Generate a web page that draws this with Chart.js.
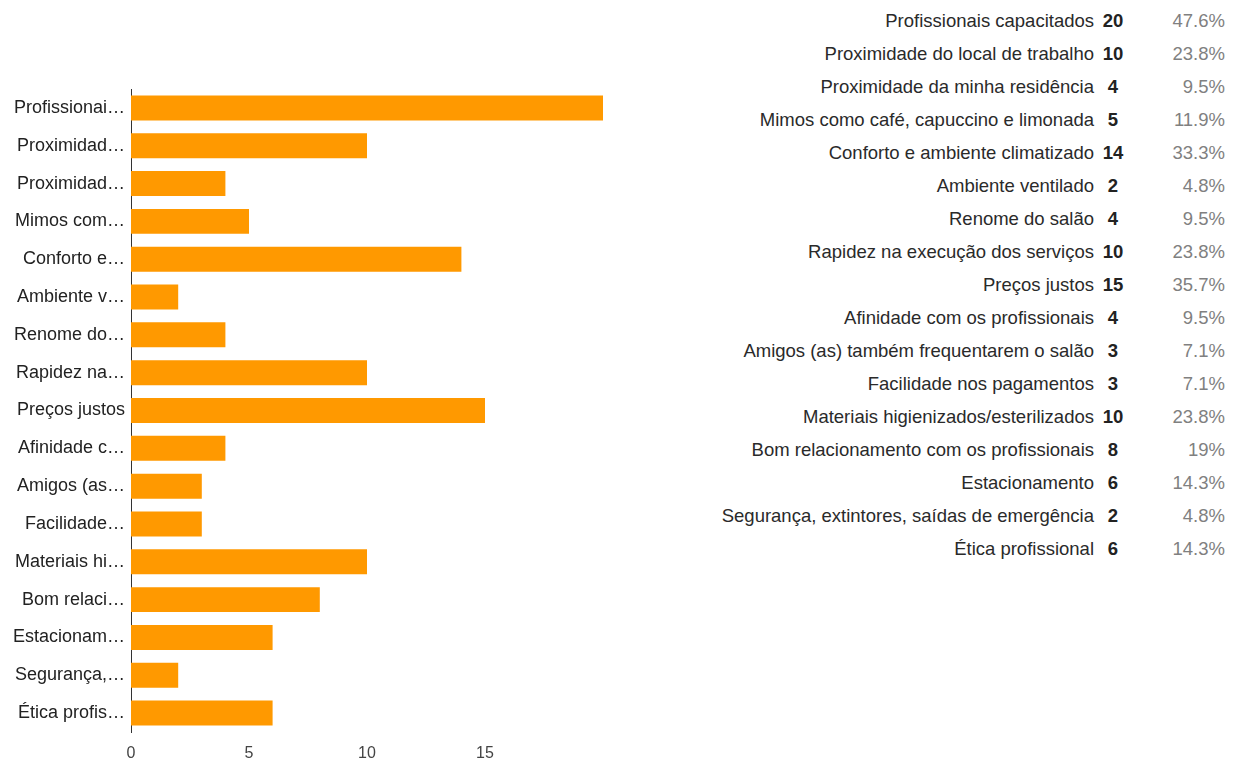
<!DOCTYPE html>
<html>
<head>
<meta charset="utf-8">
<script src="https://cdn.jsdelivr.net/npm/chart.js@4/dist/chart.umd.min.js"></script>
<style>
  html, body { margin: 0; padding: 0; background: #fff; }
  body { width: 1240px; height: 762px; position: relative; overflow: hidden; font-family: "Liberation Sans", Arial, sans-serif; }
  #chart-wrap { position: absolute; left: 0; top: 0; width: 640px; height: 762px; }
  #resumo { position: absolute; left: 660px; top: 4px; border-collapse: collapse; font-size: 18.5px; }
  #resumo td { height: 33px; padding: 0; white-space: nowrap; }
  #resumo td.lbl { text-align: right; color: #2a2a2a; width: 434px; }
  #resumo td.cnt { text-align: center; color: #222; font-weight: bold; width: 38px; }
  #resumo td.pct { text-align: right; color: #808080; width: 93px; }
</style>
</head>
<body>
<div id="chart-wrap"><canvas id="barChart"></canvas></div>
<table id="resumo"><tbody></tbody></table>
<script>
// respostas por motivo
const motivos = [
  "Profissionais capacitados",
  "Proximidade do local de trabalho",
  "Proximidade da minha residência",
  "Mimos como café, capuccino e limonada",
  "Conforto e ambiente climatizado",
  "Ambiente ventilado",
  "Renome do salão",
  "Rapidez na execução dos serviços",
  "Preços justos",
  "Afinidade com os profissionais",
  "Amigos (as) também frequentarem o salão",
  "Facilidade nos pagamentos",
  "Materiais higienizados/esterilizados",
  "Bom relacionamento com os profissionais",
  "Estacionamento",
  "Segurança, extintores, saídas de emergência",
  "Ética profissional"
];
// rótulos curtos do eixo
const rotulosEixo = [
  "Profissionai…", "Proximidad…", "Proximidad…", "Mimos com…", "Conforto e…",
  "Ambiente v…", "Renome do…", "Rapidez na…", "Preços justos", "Afinidade c…",
  "Amigos (as…", "Facilidade…", "Materiais hi…", "Bom relaci…", "Estacionam…",
  "Segurança,…", "Ética profis…"
];
const contagens = [20, 10, 4, 5, 14, 2, 4, 10, 15, 4, 3, 3, 10, 8, 6, 2, 6];
const percentuais = ["47.6%", "23.8%", "9.5%", "11.9%", "33.3%", "4.8%", "9.5%", "23.8%", "35.7%",
  "9.5%", "7.1%", "7.1%", "23.8%", "19%", "14.3%", "4.8%", "14.3%"];
const ticksX = [0, 5, 10, 15];

const el = id => document.getElementById(id);

// tabela de resumo à direita
el("resumo").querySelector("tbody").innerHTML = motivos.map((m, i) =>
  `<tr><td class="lbl">${m}</td><td class="cnt">${contagens[i]}</td><td class="pct">${percentuais[i]}</td></tr>`
).join("");

new Chart(el("barChart"), {
  type: "bar",
  data: {
    labels: rotulosEixo,
    datasets: [{ data: contagens, backgroundColor: "#ff9900", barPercentage: 0.66, categoryPercentage: 1 }]
  },
  options: {
    indexAxis: "y",
    responsive: true, maintainAspectRatio: false, animation: false,
    layout: { padding: { top: 89, right: 37, bottom: 0, left: 0 } },
    plugins: { legend: { display: false }, tooltip: { enabled: false } },
    scales: {
      x: {
        min: 0, max: 20,
        grid: { display: false, drawTicks: false },
        border: { display: false },
        afterFit: s => { s.height = 30; },
        afterBuildTicks: s => { s.ticks = ticksX.map(v => ({ value: v })); },
        ticks: { padding: 12, color: "#444", font: { family: "Liberation Sans", size: 16 } }
      },
      y: {
        grid: { display: false, drawTicks: false },
        border: { display: true, color: "#333", width: 1 },
        afterFit: s => { s.width = 131; },
        ticks: { padding: 6, color: "#222", font: { family: "Liberation Sans", size: 18 } }
      }
    }
  }
});
</script>
</body>
</html>
